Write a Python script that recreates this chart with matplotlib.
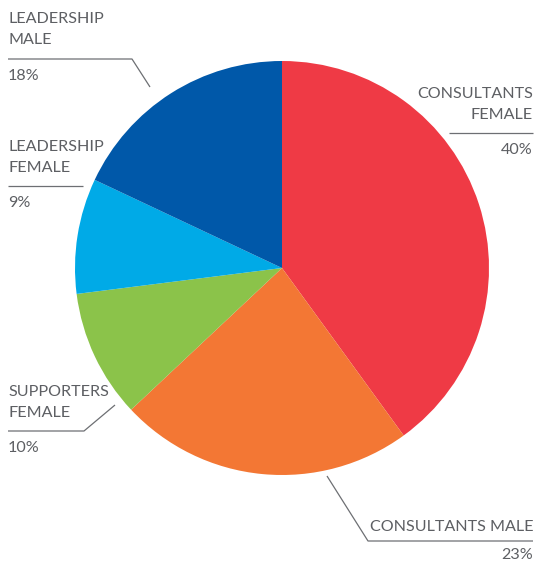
import matplotlib
matplotlib.use("Agg")
import matplotlib.pyplot as plt

# staff split by role and gender
labels = ["CONSULTANTS\nFEMALE", "CONSULTANTS MALE", "SUPPORTERS\nFEMALE",
          "LEADERSHIP\nFEMALE", "LEADERSHIP\nMALE"]
shares = [40, 23, 10, 9, 18]
colors = ["#EF3A45", "#F37734", "#8BC34A", "#00AAE7", "#0058A9"]

W, H = 538, 563
TXT = "#5d5f63"
LINE = "#6d6f73"

fig = plt.figure(figsize=(W / 100, H / 100), dpi=100)
ax = fig.add_axes([0, 0, 1, 1])

cx, cy, r = 282, H - 268, 207
ax.pie(shares, colors=colors, startangle=90, counterclock=False,
       center=(cx, cy), radius=r, frame=True,
       wedgeprops=dict(linewidth=0))
ax.set_xlim(0, W)
ax.set_ylim(0, H)
ax.set_aspect("equal")
ax.axis("off")

font = dict(family=["Lato", "DejaVu Sans"], fontsize=11.6, color=TXT)


def y(v):
    return H - v


def label(text, pct, x, ytop, ha, line_pts, gap=10):
    ax.text(x, y(ytop), text, ha=ha, va="top", linespacing=1.62, **font)
    ax.plot([p[0] for p in line_pts], [y(p[1]) for p in line_pts],
            color=LINE, lw=0.9, solid_capstyle="butt")
    yl = line_pts[0][1]
    ax.text(x, y(yl + gap), f"{pct}%", ha=ha, va="top", **font)


label(labels[4], shares[4], 8, 12, "left", [(8, 59), (132, 59), (150, 87)])
label(labels[3], shares[3], 8, 140, "left", [(8, 186), (83, 186)])
label(labels[2], shares[2], 8, 385, "left", [(8, 431), (84, 431), (115, 405)])
label(labels[0], shares[0], 533, 87, "right", [(533, 133), (449, 133)])
label(labels[1], shares[1], 533, 520, "right", [(533, 541), (368, 541), (327, 476)], gap=7)

fig.savefig("out.png", dpi=100)
